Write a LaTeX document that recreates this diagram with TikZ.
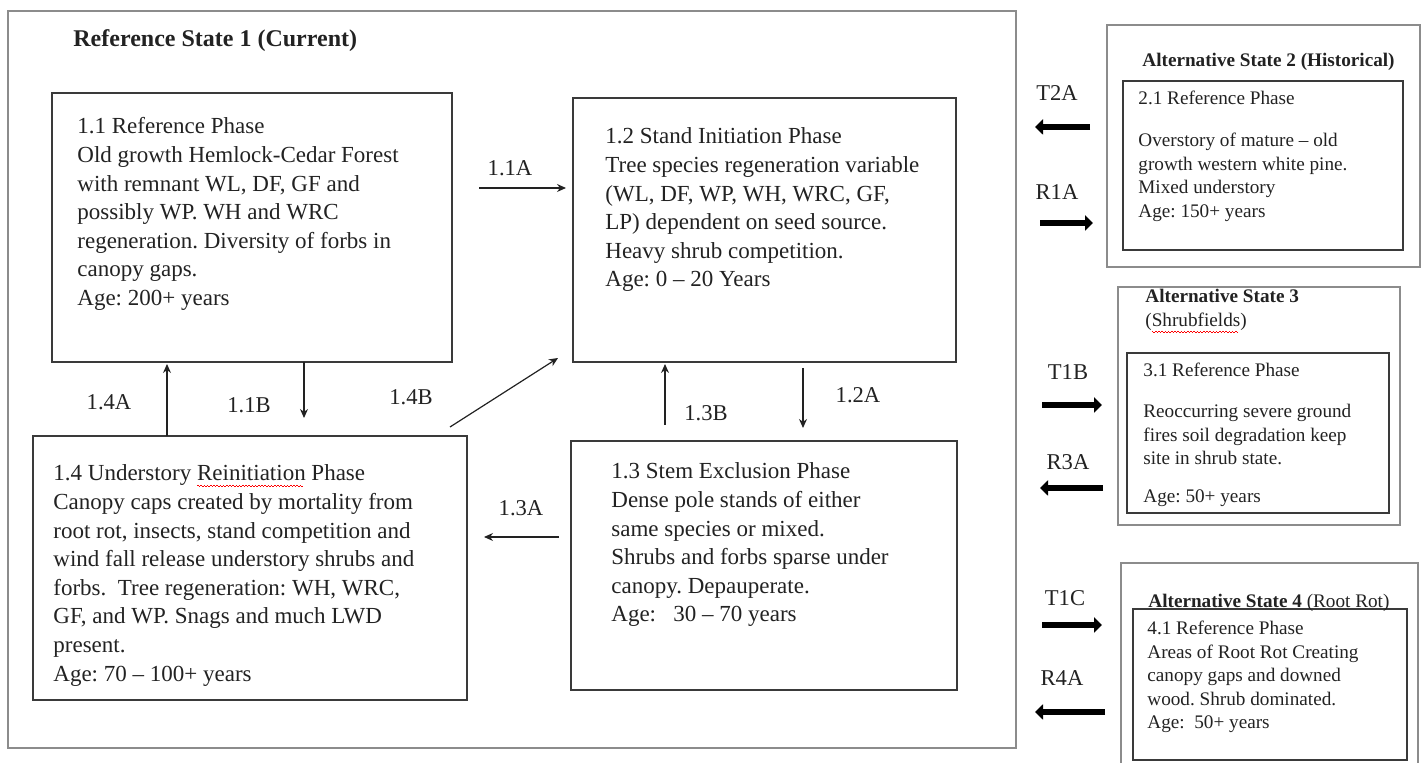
\documentclass[tikz,border=0pt]{standalone}
\usepackage{fontspec}
\setmainfont{Liberation Serif}
\usetikzlibrary{arrows.meta}
\frenchspacing

\definecolor{boxline}{HTML}{3A3A3A}
\definecolor{frameline}{HTML}{8C8C8C}
\definecolor{inkgray}{HTML}{222222}

\newsavebox\wavebox
\newcommand\spellwave[1]{\sbox\wavebox{#1}\rlap{\color{red}\raisebox{-2.4pt}{\hbox to\wd\wavebox{\leaders\hbox to 1.6pt{\vrule width 0.8pt height 0.45pt depth 0pt\vrule width 0.8pt height 0pt depth 0.3pt}\hfill}}}\usebox\wavebox}
\newcommand\textlines[1]{\begin{tabular}[t]{@{}l@{}}#1\end{tabular}}

\begin{document}
\begin{tikzpicture}[x=0.5pt,y=-0.5pt,
  frame/.style={draw=frameline, line width=0.8pt, anchor=north west, inner sep=0pt, outer sep=0pt},
  phase/.style={draw=boxline, line width=0.7pt, anchor=north west, inner sep=0pt, outer sep=0pt},
  bodytext/.style={anchor=base west, inner sep=0pt, text=inkgray, font=\fontsize{11.5}{14.3}\selectfont},
  smalltext/.style={anchor=base west, inner sep=0pt, text=inkgray, font=\fontsize{9.6}{11.7}\selectfont},
  lab/.style={text=inkgray, inner sep=0pt, font=\fontsize{11.3}{13}\selectfont},
  trans/.style={draw=inkgray, line width=0.6pt, -{Stealth[length=4.5pt,width=4pt]}},
  bigarrow/.style={draw=black, line width=3pt, -{Triangle[length=4pt,width=7.5pt]}}]

\useasboundingbox (0,0) rectangle (1424,763);
\clip (0,0) rectangle (1424,763);

% reference state 1
\node[frame, minimum width=504pt, minimum height=368.5pt] (st1) at (8,11) {};
\node[anchor=base west, inner sep=0pt, text=inkgray, font=\bfseries\fontsize{12}{14}\selectfont]
  (st1title) at ([shift={(65,36)}]st1.north west) {Reference State 1 (Current)};

\node[phase, minimum width=200pt, minimum height=134.5pt] (ph11) at (52,93) {};
\node[phase, minimum width=191.5pt, minimum height=132pt] (ph12) at (573,98) {};
\node[phase, minimum width=217pt, minimum height=132pt] (ph14) at (33,436) {};
\node[phase, minimum width=193pt, minimum height=124.5pt] (ph13) at (571,441) {};

\node[bodytext] (ph11txt) at ([shift={(25,41)}]ph11.north west)
  {\textlines{1.1 Reference Phase\\Old growth Hemlock-Cedar Forest\\with remnant WL, DF, GF and\\possibly WP. WH and WRC\\regeneration. Diversity of forbs in\\canopy gaps.\\Age: 200+ years}};
\node[bodytext] (ph12txt) at ([shift={(32,46)}]ph12.north west)
  {\textlines{1.2 Stand Initiation Phase\\Tree species regeneration variable\\(WL, DF, WP, WH, WRC, GF,\\LP) dependent on seed source.\\Heavy shrub competition.\\Age: 0 \textendash{} 20 Years}};
\node[bodytext] (ph14txt) at ([shift={(20,45)}]ph14.north west)
  {\textlines{1.4 Understory \spellwave{Reinitiation} Phase\\Canopy caps created by mortality from\\root rot, insects, stand competition and\\wind fall release understory shrubs and\\forbs.\ \ Tree regeneration: WH, WRC,\\GF, and WP. Snags and much LWD\\present.\\Age: 70 \textendash{} 100+ years}};
\node[bodytext] (ph13txt) at ([shift={(40,38)}]ph13.north west)
  {\textlines{1.3 Stem Exclusion Phase\\Dense pole stands of either\\same species or mixed.\\Shrubs and forbs sparse under\\canopy. Depauperate.\\Age:\ \ \ 30 \textendash{} 70 years}};

% pathways inside state 1
\draw[trans, shorten <=13.5pt, shorten >=3.5pt] (ph11.east |- 0,188) -- (ph12.west |- 0,188);
\draw[trans, shorten >=1pt] (ph14.north -| 167,0) -- (ph11.south -| 167,0);
\draw[trans, shorten >=9pt] (ph11.south -| 304,0) -- (ph14.north -| 304,0);
\draw[trans] ([shift={(-17,-9)}]ph14.north east) -- ([shift={(-15,-4)}]ph12.south west);
\draw[trans, shorten <=8pt, shorten >=1pt] (ph13.north -| 665,0) -- (ph12.south -| 665,0);
\draw[trans, shorten <=3pt, shorten >=6.5pt] (ph12.south -| 803,0) -- (ph13.north -| 803,0);
\draw[trans, shorten <=6pt, shorten >=8.5pt] (ph13.west |- 0,537) -- (ph14.east |- 0,537);

\node[lab] (l11A) at (510,168) {1.1A};
\node[lab] (l14A) at (109,402) {1.4A};
\node[lab] (l11B) at (249,405) {1.1B};
\node[lab] (l14B) at (411,397) {1.4B};
\node[lab] (l13A) at (521,508) {1.3A};
\node[lab] (l13B) at (706,413) {1.3B};
\node[lab] (l12A) at (858,395) {1.2A};

% alternative states
\node[frame, minimum width=156.5pt, minimum height=121pt] (st2) at (1107,25) {};
\node[phase, minimum width=140pt, minimum height=84.5pt] (ph21) at (1123,81) {};
\node[smalltext, font=\bfseries\fontsize{9.6}{11.7}\selectfont] (st2title) at ([shift={(35,42)}]st2.north west)
  {Alternative State 2 (Historical)};
\node[smalltext] (ph21txt) at ([shift={(15,24)}]ph21.north west)
  {\textlines{2.1 Reference Phase\\[9.3pt]Overstory of mature \textendash{} old\\growth western white pine.\\Mixed understory\\Age: 150+ years}};

\node[frame, minimum width=141pt, minimum height=119pt] (st3) at (1118,287) {};
\node[phase, minimum width=131pt, minimum height=80pt] (ph31) at (1127,353) {};
\node[smalltext, font=\fontsize{9.6}{12}\selectfont] (st3title) at ([shift={(27,16)}]st3.north west)
  {\textlines{\textbf{Alternative State 3}\\(\spellwave{Shrubfields})}};
\node[smalltext] (ph31txt) at ([shift={(16,24)}]ph31.north west)
  {\textlines{3.1 Reference Phase\\[8.8pt]Reoccurring severe ground\\fires soil degradation keep\\site in shrub state.\\[7.3pt]Age: 50+ years}};

\node[frame, minimum width=148.5pt, minimum height=113.5pt] (st4) at (1121,563) {};
\node[phase, minimum width=137pt, minimum height=75.5pt] (ph41) at (1133,609) {};
\node[smalltext] (st4title) at ([shift={(27,45)}]st4.north west)
  {\textbf{Alternative State 4} (Root Rot)};
\node[smalltext] (ph41txt) at ([shift={(14,26)}]ph41.north west)
  {\textlines{4.1 Reference Phase\\Areas of Root Rot Creating\\canopy gaps and downed\\wood. Shrub dominated.\\Age:\ \ 50+ years}};

% transitions and restorations
\draw[bigarrow, shorten <=8.5pt, shorten >=9.5pt] (st2.west |- 0,127) -- (st1.east |- 0,127);
\draw[bigarrow, shorten <=12pt, shorten >=7pt] (st1.east |- 0,223) -- (st2.west |- 0,223);
\draw[bigarrow, shorten <=13pt, shorten >=8pt] (st1.east |- 0,405) -- (st3.west |- 0,405);
\draw[bigarrow, shorten <=7.5pt, shorten >=12pt] (st3.west |- 0,488) -- (st1.east |- 0,488);
\draw[bigarrow, shorten <=13pt, shorten >=9.5pt] (st1.east |- 0,625) -- (st4.west |- 0,625);
\draw[bigarrow, shorten <=8pt, shorten >=9.5pt] (st4.west |- 0,712) -- (st1.east |- 0,712);

\node[lab] (lT2A) at (1057,93) {T2A};
\node[lab] (lR1A) at (1057,192) {R1A};
\node[lab] (lT1B) at (1068,372) {T1B};
\node[lab] (lR3A) at (1068,462) {R3A};
\node[lab] (lT1C) at (1065,598) {T1C};
\node[lab] (lR4A) at (1062,678) {R4A};

\end{tikzpicture}
\end{document}
